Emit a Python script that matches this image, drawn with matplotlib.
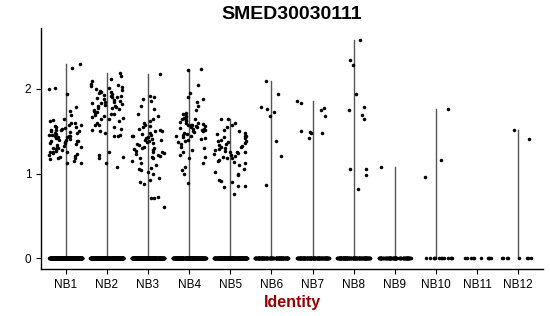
import matplotlib
matplotlib.use('Agg')
import matplotlib.pyplot as plt
import numpy as np

plt.rcParams['font.family'] = ['Liberation Sans', 'DejaVu Sans']

title = 'SMED30030111'
groups = ['NB1', 'NB2', 'NB3', 'NB4', 'NB5', 'NB6', 'NB7', 'NB8', 'NB9', 'NB10', 'NB11', 'NB12']

# cells with zero expression in each group
zero_counts = [400, 400, 300, 300, 300, 150, 150, 150, 100, 13, 10, 8]

# non-zero expression values
nb1 = [2.30, 2.25, 2.01, 2.00, 1.94, 1.79, 1.74, 1.69, 1.65, 1.63, 1.62, 1.60, 1.60, 1.58,
       1.57, 1.56, 1.55, 1.55, 1.54, 1.53, 1.52, 1.52, 1.51, 1.50, 1.50, 1.49, 1.48, 1.48,
       1.47, 1.46, 1.46, 1.45, 1.45, 1.44, 1.43, 1.43, 1.42, 1.42, 1.41, 1.40, 1.40, 1.39,
       1.38, 1.38, 1.37, 1.36, 1.36, 1.35, 1.34, 1.33, 1.32, 1.31, 1.30, 1.30, 1.29, 1.28,
       1.27, 1.26, 1.25, 1.25, 1.24, 1.23, 1.22, 1.21, 1.20, 1.19, 1.18, 1.17, 1.15, 1.13, 1.12]
nb2 = [2.19, 2.15, 2.12, 2.10, 2.06, 2.05, 2.03, 2.02, 2.01, 2.00, 1.99, 1.98, 1.97, 1.96,
       1.95, 1.94, 1.93, 1.92, 1.92, 1.91, 1.90, 1.89, 1.88, 1.87, 1.86, 1.85, 1.85, 1.84,
       1.83, 1.82, 1.81, 1.80, 1.80, 1.79, 1.78, 1.77, 1.76, 1.75, 1.74, 1.73, 1.72, 1.71,
       1.70, 1.69, 1.68, 1.67, 1.66, 1.65, 1.64, 1.62, 1.60, 1.58, 1.57, 1.55, 1.53, 1.52,
       1.50, 1.48, 1.46, 1.45, 1.44, 1.25, 1.22, 1.20, 1.18, 1.12, 1.08]
nb3 = [2.18, 1.92, 1.90, 1.88, 1.86, 1.80, 1.76, 1.70, 1.68, 1.65, 1.62, 1.60, 1.58, 1.56,
       1.55, 1.53, 1.52, 1.50, 1.50, 1.48, 1.47, 1.46, 1.45, 1.44, 1.43, 1.42, 1.41, 1.40,
       1.40, 1.38, 1.37, 1.36, 1.35, 1.34, 1.32, 1.30, 1.30, 1.29, 1.28, 1.27, 1.26, 1.25,
       1.24, 1.23, 1.22, 1.21, 1.20, 1.19, 1.18, 1.15, 1.12, 1.10, 1.07, 1.05, 1.04, 1.02,
       1.00, 0.95, 0.92, 0.90, 0.88, 0.72, 0.71, 0.71, 0.61]
nb4 = [2.24, 2.22, 2.05, 1.95, 1.90, 1.88, 1.85, 1.80, 1.75, 1.72, 1.70, 1.68, 1.67, 1.66,
       1.65, 1.64, 1.63, 1.62, 1.61, 1.60, 1.60, 1.59, 1.58, 1.58, 1.57, 1.56, 1.56, 1.55,
       1.55, 1.54, 1.53, 1.53, 1.52, 1.51, 1.50, 1.50, 1.49, 1.48, 1.47, 1.46, 1.45, 1.44,
       1.43, 1.42, 1.41, 1.40, 1.38, 1.37, 1.35, 1.32, 1.30, 1.28, 1.25, 1.22, 1.20, 1.18,
       1.12, 1.08, 1.04, 0.99, 0.89]
nb5 = [1.65, 1.64, 1.60, 1.58, 1.55, 1.52, 1.50, 1.48, 1.47, 1.45, 1.44, 1.43, 1.42, 1.40,
       1.39, 1.38, 1.37, 1.36, 1.35, 1.34, 1.33, 1.32, 1.31, 1.30, 1.29, 1.28, 1.27, 1.26,
       1.25, 1.25, 1.24, 1.23, 1.22, 1.21, 1.20, 1.19, 1.18, 1.16, 1.15, 1.14, 1.12, 1.10,
       1.05, 1.02, 1.00, 0.98, 0.93, 0.91, 0.90, 0.86, 0.85, 0.84, 0.76]
nb6 = [2.10, 1.94, 1.79, 1.76, 1.73, 1.68, 1.39, 1.21, 0.87]
nb7 = [1.86, 1.83, 1.78, 1.75, 1.68, 1.50, 1.49, 1.48, 1.48, 1.42]
nb8 = [2.58, 2.34, 2.28, 1.94, 1.79, 1.75, 1.69, 1.65, 1.06, 1.06, 0.98, 0.82]
nb9 = [1.08]
nb10 = [1.76, 1.16, 0.96]
nb11 = []
nb12 = [1.52, 1.41]
nonzero = [nb1, nb2, nb3, nb4, nb5, nb6, nb7, nb8, nb9, nb10, nb11, nb12]


def spread(n, seed):
    # deterministic (hash-based) horizontal jitter in [-0.4, 0.4]
    i = np.arange(n) + seed * 1000.0
    h = np.abs(np.sin(i * 12.9898 + 78.233) * 43758.5453) % 1.0
    return (h - 0.5) * 0.8


fig = plt.figure(figsize=(5.5, 3.16), dpi=100)
ax = fig.add_axes([41 / 550, 1 - 269 / 316, 502 / 550, 241 / 316])

for k, name in enumerate(groups):
    pos = k + 1
    vals = np.array(nonzero[k])
    # squashed violin -> just a thin line up to the maximum
    if len(vals) > 0:
        ax.plot([pos, pos], [0, vals.max()], color='#555555', lw=1.0, zorder=1)
    zx = pos + spread(zero_counts[k], k + 1)
    ax.scatter(zx, np.zeros(zero_counts[k]), s=6.5, color='black', lw=0, zorder=2)
    if len(vals) > 0:
        nx = pos + spread(len(vals), k + 31)
        ax.scatter(nx, vals, s=6.5, color='black', lw=0, zorder=3)

ax.set_xlim(0.4, 12.6)
ax.set_ylim(-0.126, 2.72)
ax.set_xticks(range(1, len(groups) + 1))
ax.set_xticklabels(groups)
ax.set_yticks([0, 1, 2])
ax.tick_params(labelsize=8.5, length=3.5, width=0.8, colors='black')
for s in ['top', 'right']:
    ax.spines[s].set_visible(False)
for s in ['left', 'bottom']:
    ax.spines[s].set_linewidth(1.0)

ax.set_xlabel('Identity', fontsize=11.5, fontweight='bold', color='#990000', labelpad=3)
fig.text(0.531, 0.953, title, fontsize=14, fontweight='bold', ha='center', va='center')

fig.savefig('out.png', dpi=100)
